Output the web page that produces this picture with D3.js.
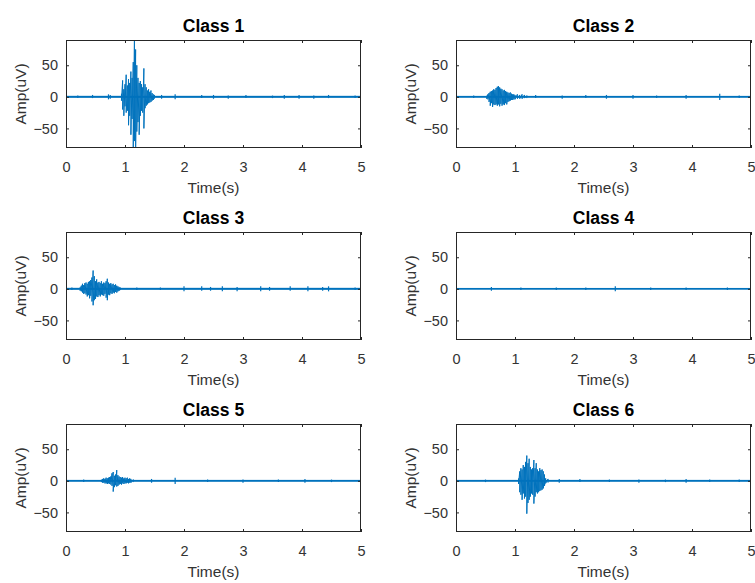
<!DOCTYPE html>
<html>
<head>
<meta charset="utf-8">
<script src="https://cdn.jsdelivr.net/npm/d3@7"></script>
<style>
body { margin: 0; background: #fff; }
text { font-family: "Liberation Sans", Arial, sans-serif; }
</style>
</head>
<body>
<div id="chart"></div>
<script>
var width = 755
var height = 583

var classNames = ['Class 1', 'Class 2', 'Class 3', 'Class 4', 'Class 5', 'Class 6']
var timeTicks = [0, 1, 2, 3, 4, 5]
var ampTicks = [-50, 0, 50]
var timeRange = [0, 5]
var ampRange = [-81, 90]

// resting noise half-width (uV) for each class
var noiseLevel = [1.6, 1.5, 1.6, 1.4, 1.5, 1.5]

// burst envelopes: [time (s), max (uV), min (uV)]
var class1Burst = [
  [0.94, 5, -6], [0.96, 26, -20], [0.98, 12, -30], [1.00, 20, -15], [1.02, 35, -25],
  [1.04, 18, -22], [1.06, 28, -45], [1.08, 22, -30], [1.10, 40, -60], [1.12, 30, -35],
  [1.14, 55, -80], [1.16, 92, -70], [1.18, 75, -84], [1.20, 50, -55], [1.22, 30, -40],
  [1.24, 22, -60], [1.26, 25, -30], [1.28, 20, -22], [1.30, 15, -25], [1.32, 45, -50],
  [1.34, 20, -18], [1.36, 15, -14], [1.38, 10, -12], [1.40, 12, -10], [1.42, 8, -9],
  [1.44, 10, -8], [1.46, 6, -6], [1.48, 4, -5], [1.50, 3, -3]
]
var class2Burst = [
  [0.52, 2, -3], [0.54, 4, -4], [0.56, 6, -8], [0.58, 8, -14], [0.60, 9, -10],
  [0.62, 10, -16], [0.64, 12, -12], [0.66, 11, -13], [0.68, 14, -12], [0.70, 16, -14],
  [0.72, 17, -12], [0.74, 15, -15], [0.76, 13, -11], [0.78, 12, -14], [0.80, 10, -12],
  [0.82, 11, -13], [0.84, 9, -10], [0.86, 8, -12], [0.88, 7, -8], [0.90, 6, -7],
  [0.92, 7, -6], [0.94, 5, -5], [0.96, 4, -5], [0.98, 4, -4], [1.00, 3, -4],
  [1.04, 4, -3], [1.08, 3, -3], [1.12, 4, -3], [1.16, 3, -2], [1.20, 2, -2]
]
var class3Burst = [
  [0.24, 3, -3], [0.26, 5, -4], [0.28, 8, -6], [0.30, 6, -8], [0.32, 9, -7],
  [0.34, 10, -9], [0.36, 8, -12], [0.38, 11, -10], [0.40, 12, -15], [0.42, 14, -11],
  [0.44, 18, -20], [0.46, 29, -26], [0.48, 20, -18], [0.50, 12, -16], [0.52, 15, -12],
  [0.54, 10, -13], [0.56, 11, -10], [0.58, 9, -12], [0.60, 12, -9], [0.62, 8, -10],
  [0.64, 10, -11], [0.66, 9, -8], [0.68, 12, -14], [0.70, 16, -18], [0.72, 10, -9],
  [0.74, 8, -10], [0.76, 9, -7], [0.78, 7, -8], [0.80, 8, -6], [0.82, 6, -7],
  [0.84, 7, -5], [0.86, 5, -6], [0.88, 4, -4], [0.90, 3, -3], [0.92, 2, -2]
]
var class4Burst = []
var class5Burst = [
  [0.60, 2, -2], [0.62, 3, -3], [0.64, 4, -3], [0.66, 3, -4], [0.68, 5, -4],
  [0.70, 4, -5], [0.72, 5, -4], [0.74, 6, -5], [0.76, 7, -6], [0.78, 12, -8],
  [0.80, 14, -17], [0.82, 8, -10], [0.84, 10, -7], [0.86, 17, -9], [0.88, 9, -8],
  [0.90, 7, -6], [0.92, 6, -5], [0.94, 5, -6], [0.96, 6, -4], [0.98, 4, -5],
  [1.00, 5, -4], [1.02, 4, -4], [1.04, 5, -3], [1.06, 3, -4], [1.08, 4, -3],
  [1.10, 3, -3], [1.14, 2, -2]
]
var class6Burst = [
  [1.06, 4, -5], [1.08, 15, -18], [1.10, 20, -22], [1.12, 18, -30], [1.14, 25, -20],
  [1.16, 22, -28], [1.18, 30, -25], [1.20, 40, -52], [1.22, 28, -35], [1.24, 35, -30],
  [1.26, 22, -25], [1.28, 18, -20], [1.30, 20, -22], [1.32, 33, -36], [1.34, 20, -25],
  [1.36, 28, -18], [1.38, 18, -20], [1.40, 15, -18], [1.42, 20, -16], [1.44, 17, -15],
  [1.46, 18, -14], [1.48, 15, -12], [1.50, 10, -8], [1.52, 4, -4], [1.56, 3, -3]
]

// isolated small spikes on the resting signal: [time (s), max, min]
var class1Blips = [[0.2, 2, -2], [0.45, 3, -2], [0.72, 4, -4], [0.75, 3, -3], [1.62, 3, -3], [1.85, 4, -4],
  [2.3, 3, -2], [2.5, 3, -3], [2.75, 2, -3], [3.05, 3, -2], [3.5, 2, -2], [3.7, 3, -3], [3.95, 3, -3],
  [4.2, 2, -3], [4.45, 3, -2], [4.9, 2, -2]]
var class2Blips = [[0.3, 2, -2], [1.35, 3, -2], [1.8, 2, -3], [2.2, 3, -2], [2.55, 3, -3], [3.0, 3, -3],
  [3.4, 2, -2], [3.9, 3, -3], [4.47, 5, -5], [4.8, 2, -2]]
var class3Blips = [[0.1, 2, -2], [1.2, 2, -2], [1.6, 2, -2], [2.0, 4, -4], [2.3, 4, -3], [2.45, 3, -3],
  [2.65, 4, -4], [2.9, 3, -4], [3.3, 4, -4], [3.45, 3, -3], [3.8, 4, -3], [4.1, 4, -4], [4.35, 3, -3],
  [4.45, 4, -4], [4.9, 2, -2]]
var class4Blips = [[0.6, 3, -3], [1.1, 2, -2], [1.7, 2, -2], [2.2, 2, -2], [2.7, 4, -4], [3.3, 2, -2],
  [3.9, 2, -2], [4.6, 2, -2]]
var class5Blips = [[0.3, 2, -2], [1.45, 3, -3], [1.85, 5, -5], [2.4, 2, -2], [3.0, 2, -3], [3.6, 2, -2],
  [4.05, 3, -3], [4.5, 2, -2]]
var class6Blips = [[0.5, 2, -2], [1.75, 3, -3], [2.1, 3, -2], [2.6, 2, -2], [3.1, 2, -3], [3.55, 2, -2],
  [3.9, 3, -3], [4.3, 2, -2], [4.8, 2, -2]]

var bursts = [class1Burst, class2Burst, class3Burst, class4Burst, class5Burst, class6Burst]
var blips = [class1Blips, class2Blips, class3Blips, class4Blips, class5Blips, class6Blips]

var colLeft = [66, 456]
var rowTop = [40, 232, 424]
var panelW = 295
var panelH = 108
var lineColor = '#0072BD'
var axisColor = '#262626'

var svg = d3.select('#chart')
  .append('svg')
  .attr('width', width)
  .attr('height', height)

function draw_panel(i) {
  var left = colLeft[i % 2]
  var top = rowTop[Math.floor(i / 2)]

  var x = d3.scaleLinear().domain(timeRange).range([0, panelW])
  var y = d3.scaleLinear().domain(ampRange).range([panelH, 0])

  var g = svg.append('g')
    .attr('transform', 'translate(' + left + ',' + top + ')')

  g.append('clipPath')
    .attr('id', 'clip' + i)
    .append('rect')
    .attr('width', panelW)
    .attr('height', panelH)

  var plot = g.append('g').attr('clip-path', 'url(#clip' + i + ')')

  // resting noise band
  plot.append('rect')
    .attr('x', x(timeRange[0]))
    .attr('width', x(timeRange[1]) - x(timeRange[0]))
    .attr('y', y(noiseLevel[i]))
    .attr('height', y(-noiseLevel[i]) - y(noiseLevel[i]))
    .attr('fill', lineColor)

  // small spikes
  plot.selectAll('.blip')
    .data(blips[i])
    .enter()
    .append('line')
    .attr('x1', function(d) { return x(d[0]) })
    .attr('x2', function(d) { return x(d[0]) })
    .attr('y1', function(d) { return y(d[1]) })
    .attr('y2', function(d) { return y(d[2]) })
    .attr('stroke', lineColor)
    .attr('stroke-width', 1.2)

  // burst as zigzag through max / min of each bin
  var pts = []
  bursts[i].forEach(function(d) {
    pts.push([d[0], d[1]])
    pts.push([d[0], d[2]])
  })
  if (pts.length) {
    plot.append('path')
      .datum(pts)
      .attr('fill', 'none')
      .attr('stroke', lineColor)
      .attr('stroke-width', 1)
      .attr('d', d3.line()
        .x(function(d) { return x(d[0]) })
        .y(function(d) { return y(d[1]) }))
  }

  // axes with inward ticks on all four sides
  var axB = g.append('g').attr('transform', 'translate(0,' + panelH + ')')
    .call(d3.axisBottom(x).tickValues(timeTicks).tickSizeInner(-3).tickSizeOuter(0).tickPadding(10).tickFormat(d3.format('d')))
  var axT = g.append('g')
    .call(d3.axisTop(x).tickValues(timeTicks).tickSizeInner(-3).tickSizeOuter(0).tickFormat(''))
  var axL = g.append('g')
    .call(d3.axisLeft(y).tickValues(ampTicks).tickSizeInner(-3).tickSizeOuter(0).tickPadding(8).tickFormat(d3.format('d')))
  var axR = g.append('g').attr('transform', 'translate(' + panelW + ',0)')
    .call(d3.axisRight(y).tickValues(ampTicks).tickSizeInner(-3).tickSizeOuter(0).tickFormat(''))

  ;[axB, axT, axL, axR].forEach(function(a) {
    a.select('.domain').remove()
    a.selectAll('line').attr('stroke', axisColor)
    a.selectAll('text')
      .attr('fill', '#333')
      .style('font-size', '14.5px')
  })
  axB.selectAll('text').attr('dy', '0.95em')

  g.append('rect')
    .attr('x', 0.5)
    .attr('y', 0.5)
    .attr('width', panelW - 1)
    .attr('height', panelH - 1)
    .attr('fill', 'none')
    .attr('stroke', axisColor)
    .attr('stroke-width', 1)

  g.append('text')
    .attr('x', panelW / 2)
    .attr('y', -8)
    .attr('text-anchor', 'middle')
    .attr('fill', '#000')
    .style('font-weight', 'bold')
    .style('font-size', '17.5px')
    .text(classNames[i])

  g.append('text')
    .attr('x', panelW / 2)
    .attr('y', panelH + 45)
    .attr('text-anchor', 'middle')
    .attr('fill', '#333')
    .style('font-size', '15.5px')
    .text('Time(s)')

  g.append('text')
    .attr('transform', 'translate(-40,' + (panelH / 2) + ') rotate(-90)')
    .attr('text-anchor', 'middle')
    .attr('fill', '#333')
    .style('font-size', '15.5px')
    .text('Amp(uV)')
}

for (var k = 0; k < classNames.length; k++) {
  draw_panel(k)
}
</script>
</body>
</html>
